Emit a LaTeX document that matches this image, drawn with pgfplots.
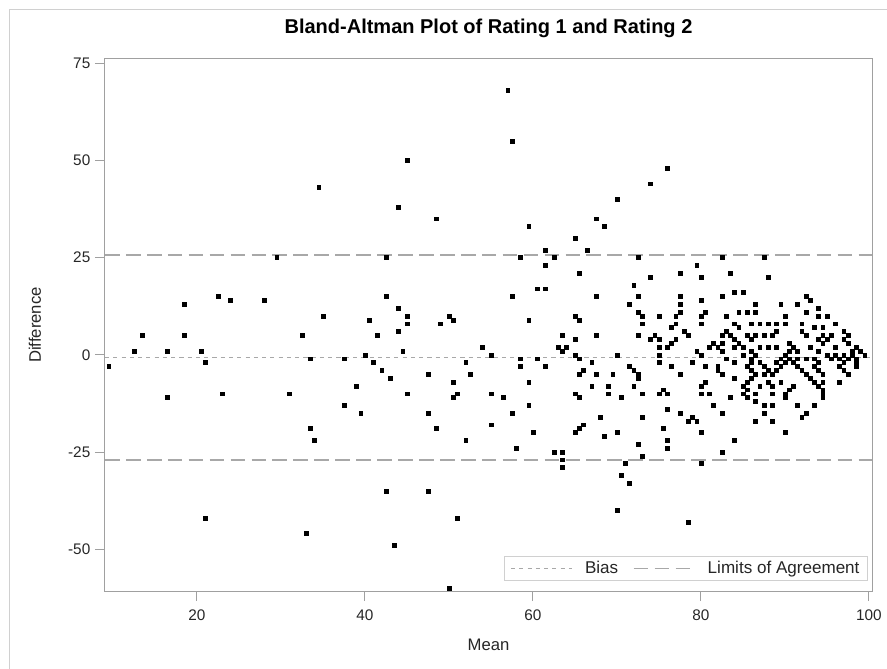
\documentclass[border=0pt]{standalone}
\usepackage{fontspec}
\setmainfont{Liberation Sans}
\usepackage{pgfplots}
\pgfplotsset{compat=1.18}
\usepackage{pgfplotstable}
\definecolor{axgray}{RGB}{160,160,160}
\definecolor{refgray}{RGB}{168,168,168}
\definecolor{bordgray}{RGB}{208,208,208}
\pgfplotstableread{
x y
9.5 -3
12.5 1
13.5 5
16.5 1
16.5 -11
18.5 13
18.5 5
20.5 1
21 -2
21 -42
22.5 15
23 -10
24 14
28 14
29.5 25
31 -10
32.5 5
33 -46
33.5 -1
33.5 -19
34 -22
34.5 43
35 10
37.5 -1
37.5 -13
39 -8
39.5 -15
40 0
40.5 9
41 -2
41.5 5
42 -4
42.5 25
42.5 15
42.5 -35
43 -6
43.5 -49
44 38
44 12
44 6
44.5 1
45 50
45 10
45 8
45 -10
47.5 -5
47.5 -15
47.5 -35
48.5 35
48.5 -19
49 8
50 10
50.5 9
50.5 -7
50.5 -11
51 -10
51 -42
50 -60
52 -2
52.5 -5
52 -22
54 2
55 0
55 -10
55 -18
56.5 -11
57 68
57.5 55
57.5 15
57.5 -15
58 -24
58.5 25
58.5 -1
58.5 -3
59.5 33
59.5 9
59.5 -7
59.5 -13
60 -20
60.5 17
60.5 -1
61.5 27
61.5 23
61.5 17
61.5 -3
62.5 25
62.5 -25
63 2
63.5 5
63.5 1
64 2
63.5 -25
63.5 -27
63.5 -29
65 30
65.5 21
65 10
65.5 9
65 4
65 0
65.5 -1
65.5 -5
65 -10
65.5 -11
65.5 -19
65 -20
66.5 27
67.5 35
68.5 33
70 40
72.5 25
74 44
76 48
74 20
77.5 21
79.5 23
80 20
82.5 25
83.5 21
87.5 25
88 20
72 18
67.5 15
72.5 15
77.5 15
82.5 15
84 16
85 16
92.5 15
93 14
71.5 13
77.5 13
80 14
86.5 13
89.5 13
91.5 13
94 12
72.5 11
73 10
73 8
75 10
77 10
77.5 11
80.5 11
80 10
83 10
84.5 11
85.5 11
86.5 11
90 10
92.5 11
94 10
95 10
77 8
76.5 7
80 8
84 8
84.5 7
86 8
87 8
88 8
89 8
90 8
92 8
93.5 7
94.5 7
96 8
67.5 5
72.5 5
74 4
74.5 5
75 4
78 6
78.5 5
77 4
76.5 3
76 2
75 2
82.5 5
83 6
83.5 5
84 4
85.5 5
86 4
86.5 5
87.5 5
88.5 5
89 6
92 6
92.5 5
94.5 5
95.5 5
97 6
97.5 5
94 4
95 4
97 4
81 2
81.5 3
82 2
82.5 3
84 2
84.5 3
85 2
87 2
88 2
89 2
90.5 3
91 2
93 2
94.5 3
96 2
97.5 3
98.5 2
99 1
99.5 0
79.5 1
82.5 1
86 1
90.5 1
91.5 1
94 1
98 1
70 0
75 0
80 0
85 0
86.5 0
90 0
95 0
96 0
97 0
98 0
83 -1
86 -1
89.5 -1
90.5 -1
91.5 -1
92.5 -1
93.5 -1
95.5 -1
96.5 -1
97.5 -1
98.5 -1
67 -2
75 -2
79 -2
84 -2
86 -2
87 -2
89 -2
90 -2
91 -2
94 -2
97 -2
98.5 -2
71.5 -3
76.5 -3
80.5 -3
82 -3
85.5 -3
87.5 -3
89.5 -3
91.5 -3
93.5 -3
96.5 -3
98.5 -3
66 -4
72 -4
82 -4
86 -4
88 -4
89 -4
92 -4
94 -4
97 -4
67.5 -5
69.5 -5
72.5 -5
77.5 -5
82.5 -5
86.5 -5
87.5 -5
88.5 -5
92.5 -5
94.5 -5
97.5 -5
72.5 -6
84 -6
86 -6
93 -6
80.5 -7
85.5 -7
88 -7
89.5 -7
93.5 -7
94.5 -7
96.5 -7
67 -8
69 -8
72 -8
80 -8
85 -8
87 -8
88.5 -8
91 -8
94 -8
75.5 -9
85.5 -9
90.5 -9
94.5 -9
69 -10
73 -10
75 -10
76 -10
80 -10
81 -10
85 -10
86.5 -10
88.5 -10
90 -10
94.5 -10
70.5 -11
83.5 -11
85.5 -11
90 -11
94.5 -11
86.5 -12
81.5 -13
87.5 -13
88.5 -13
91.5 -13
93.5 -13
76 -14
77.5 -15
82.5 -15
87.5 -15
92.5 -15
68 -16
73 -16
78.5 -17
79 -16
79.5 -17
86.5 -17
88.5 -17
92 -16
66 -18
75.5 -19
70 -20
80 -20
90 -20
68.5 -21
76 -22
84 -22
72.5 -23
76 -24
82.5 -25
73 -26
71 -28
80 -28
70.5 -31
71.5 -33
70 -40
78.5 -43
}\ptstable
\pgfplotstableread{
x y
9.05 -0.7
100.36 -0.7
}\biastable
\pgfplotstableread{
x y
9.05 25.7
100.36 25.7
}\uppertable
\pgfplotstableread{
x y
9.05 -27.0
100.36 -27.0
}\lowertable
\begin{document}
\begin{tikzpicture}
\useasboundingbox (-78.75pt,-57.75pt) rectangle (586.5pt,443.25pt);
\draw[bordgray, line width=0.75pt] (-71.25pt,-60pt) -- (-71.25pt,435.75pt) -- (590pt,435.75pt);
\begin{axis}[
  at={(0pt,0pt)}, anchor=south west,
  width=575.25pt, height=399pt, scale only axis,
  xmin=9.05, xmax=100.36, ymin=-60.75, ymax=76.1,
  xtick={20,40,60,80,100}, ytick={-50,-25,0,25,50,75},
  tick align=outside, tick pos=left, major tick length=7.5pt,
  axis line style={draw=axgray, line width=0.75pt},
  tick style={draw=axgray, line width=0.75pt},
  /pgf/number format/assume math mode=true,
  ticklabel style={font=\fontsize{11.5}{13}\selectfont, text=black!85},
  xticklabel style={yshift=-3.4pt},
  title={Bland-Altman Plot of Rating 1 and Rating 2},
  title style={font=\fontsize{15}{18}\selectfont\bfseries, at={(0.5,1)}, anchor=base, yshift=12.75pt},
  xlabel={Mean}, ylabel={Difference},
  xlabel style={font=\fontsize{12.5}{15}\selectfont, text=black!85, at={(axis description cs:0.5,-0.1015)}, anchor=center},
  ylabel style={font=\fontsize{12.5}{15}\selectfont, text=black!85, at={(axis description cs:-0.0913,0.5)}, anchor=center, rotate=0},
  legend columns=2,
  legend cell align=left,
  legend style={at={(rel axis cs:0.9948,0.0188)}, anchor=south east, draw=bordgray, line width=0.75pt,
    font=\fontsize{12.8}{14}\selectfont, text=black!85, inner xsep=4pt, inner ysep=1.5pt,
    /tikz/every odd column/.append style={column sep=7pt},
    /tikz/every even column/.append style={column sep=9pt}},
  legend image code/.code={\draw[#1] (0pt,0pt) -- (46pt,0pt);},
]
\addplot[only marks, mark=square*, mark size=1.45pt, black, forget plot] table {\ptstable};
\addplot[refgray, line width=1.1pt, dash pattern=on 3.1pt off 3.1pt] table {\biastable};
\addlegendentry{Bias}
\addplot[refgray, line width=1.1pt, dash pattern=on 11pt off 4.7pt] table {\uppertable};
\addlegendentry{Limits of Agreement}
\addplot[refgray, line width=1.1pt, dash pattern=on 11pt off 4.7pt, forget plot] table {\lowertable};
\end{axis}
\end{tikzpicture}
\end{document}
